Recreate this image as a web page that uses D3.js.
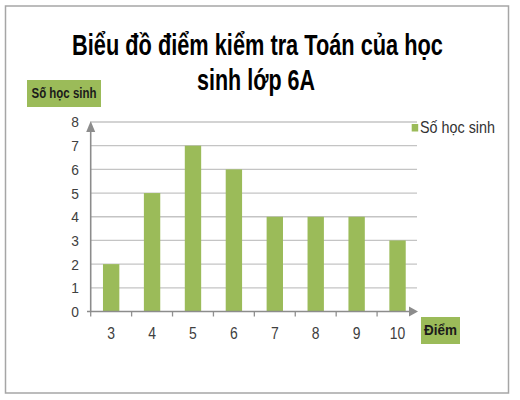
<script src="https://d3js.org/d3.v7.min.js"></script>

<style>
  body { margin: 0; background: #fff; }
</style>

<div id="container"></div>

<script>
// data
var diem = ["3", "4", "5", "6", "7", "8", "9", "10"];
var soHocSinh = [2, 5, 7, 6, 4, 4, 4, 3];
var yTicks = [0, 1, 2, 3, 4, 5, 6, 7, 8];
var seriesName = "Số học sinh";
var xTitle = "Điểm";
var titleLines = ["Biểu đồ điểm kiểm tra Toán của học", "sinh lớp 6A"];

var green = "#9bbb59";
var font = "'Liberation Sans', Arial, sans-serif";

var svg = d3.select("#container").append("svg")
  .attr("width", 520)
  .attr("height", 400);

// squeeze a text horizontally around its anchor (the picture uses a narrow font)
function squeeze(sel, k) {
  sel.each(function () {
    var t = d3.select(this);
    var x = +t.attr("x"), y = +t.attr("y");
    t.attr("transform", "translate(" + x + "," + y + ") scale(" + k + ",1) translate(" + (-x) + "," + (-y) + ")");
  });
}
function fitWidth(sel, w) {
  var n = sel.node().getComputedTextLength();
  squeeze(sel, w / n);
}

// outer frame
svg.append("rect")
  .attr("x", 5.5).attr("y", 6)
  .attr("width", 503).attr("height", 387)
  .attr("fill", "none")
  .attr("stroke", "#a6a6a6")
  .attr("stroke-width", 1.5);

// title
var t1 = svg.append("text")
  .attr("x", 257.5).attr("y", 55)
  .attr("text-anchor", "middle")
  .attr("font-family", font)
  .attr("font-weight", "bold")
  .attr("font-size", 29)
  .attr("fill", "#000")
  .text(titleLines[0]);
fitWidth(t1, 371);
var t2 = svg.append("text")
  .attr("x", 256).attr("y", 90)
  .attr("text-anchor", "middle")
  .attr("font-family", font)
  .attr("font-weight", "bold")
  .attr("font-size", 29)
  .attr("fill", "#000")
  .text(titleLines[1]);
fitWidth(t2, 118);

// scales
var xscale = d3.scaleBand()
  .domain(diem)
  .range([90.7, 418])
  .paddingInner(0.6)
  .paddingOuter(0.3);

var yscale = d3.scaleLinear()
  .domain([0, 8])
  .range([311.5, 122]);

// gridlines
svg.append("g")
  .selectAll("line")
  .data(yTicks.slice(1))
  .enter()
  .append("line")
    .attr("x1", 90.7)
    .attr("x2", 417)
    .attr("y1", function (d) { return yscale(d); })
    .attr("y2", function (d) { return yscale(d); })
    .attr("stroke", "#c4c4c4")
    .attr("stroke-width", 1.3);

// bars
svg.append("g")
  .selectAll("rect")
  .data(soHocSinh)
  .enter()
  .append("rect")
    .attr("x", function (d, i) { return xscale(diem[i]); })
    .attr("y", function (d) { return yscale(d); })
    .attr("width", xscale.bandwidth())
    .attr("height", function (d) { return yscale(0) - yscale(d); })
    .attr("fill", green);

// y axis labels
svg.append("g")
  .selectAll("text")
  .data(yTicks)
  .enter()
  .append("text")
    .attr("x", 79)
    .attr("y", function (d) { return yscale(d) + 5.5; })
    .attr("text-anchor", "end")
    .attr("font-family", font)
    .attr("font-size", 15)
    .attr("fill", "#404040")
    .text(function (d) { return d; })
    .call(squeeze, 0.92);

// x axis labels
svg.append("g")
  .selectAll("text")
  .data(diem)
  .enter()
  .append("text")
    .attr("x", function (d) { return xscale(d) + xscale.bandwidth() / 2; })
    .attr("y", 339)
    .attr("text-anchor", "middle")
    .attr("font-family", font)
    .attr("font-size", 17)
    .attr("fill", "#404040")
    .text(function (d) { return d; })
    .call(squeeze, 0.82);

// x ticks at band boundaries
var step = xscale.step();
svg.append("g")
  .selectAll("line")
  .data(diem)
  .enter()
  .append("line")
    .attr("x1", function (d) { return xscale(d) - step * 0.3; })
    .attr("x2", function (d) { return xscale(d) - step * 0.3; })
    .attr("y1", yscale(0))
    .attr("y2", yscale(0) + 5)
    .attr("stroke", "#909090")
    .attr("stroke-width", 1.3);

// axes with arrows
var axisColor = "#8c8c8c";
svg.append("line")
  .attr("x1", 87).attr("x2", 411)
  .attr("y1", yscale(0)).attr("y2", yscale(0))
  .attr("stroke", axisColor).attr("stroke-width", 1.6);
svg.append("path")
  .attr("d", "M409," + (yscale(0) - 5) + "L418," + yscale(0) + "L409," + (yscale(0) + 5) + "Z")
  .attr("fill", axisColor);
svg.append("line")
  .attr("x1", 90.7).attr("x2", 90.7)
  .attr("y1", yscale(0)).attr("y2", 129)
  .attr("stroke", axisColor).attr("stroke-width", 1.6);
svg.append("path")
  .attr("d", "M86.2,132L90.7,121L95.2,132Z")
  .attr("fill", axisColor);

// axis title boxes
svg.append("rect")
  .attr("x", 27).attr("y", 80)
  .attr("width", 74).attr("height", 27)
  .attr("fill", green);
var yt = svg.append("text")
  .attr("x", 64).attr("y", 98.5)
  .attr("text-anchor", "middle")
  .attr("font-family", font)
  .attr("font-weight", "bold")
  .attr("font-size", 14)
  .attr("fill", "#1a1a1a")
  .text(seriesName);
fitWidth(yt, 65);

svg.append("rect")
  .attr("x", 421).attr("y", 317)
  .attr("width", 39).attr("height", 27)
  .attr("fill", green);
var xt = svg.append("text")
  .attr("x", 440.5).attr("y", 335.5)
  .attr("text-anchor", "middle")
  .attr("font-family", font)
  .attr("font-weight", "bold")
  .attr("font-size", 14)
  .attr("fill", "#1a1a1a")
  .text(xTitle);
fitWidth(xt, 33);

// legend
svg.append("rect")
  .attr("x", 411.7).attr("y", 124)
  .attr("width", 6.5).attr("height", 7.5)
  .attr("fill", green);
var lg = svg.append("text")
  .attr("x", 420).attr("y", 133.5)
  .attr("font-family", font)
  .attr("font-size", 16)
  .attr("fill", "#333")
  .text(seriesName);
fitWidth(lg, 75);
</script>
